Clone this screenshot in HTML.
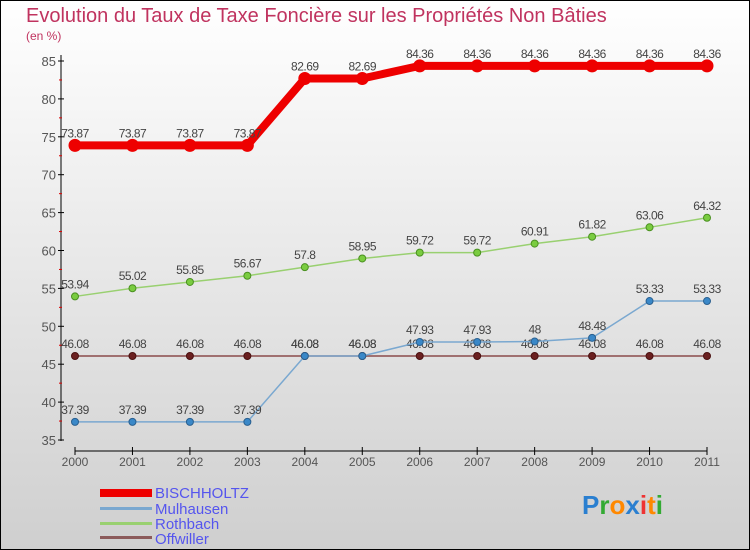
<!DOCTYPE html>
<html><head><meta charset="utf-8"><style>
body{margin:0}
svg{display:block;font-family:"Liberation Sans",sans-serif}
</style></head><body>
<svg id="c" width="750" height="550" xmlns="http://www.w3.org/2000/svg">
<defs><linearGradient id="bg" x1="0" y1="0" x2="0" y2="1"><stop offset="0" stop-color="#ffffff"/><stop offset="1" stop-color="#cfcfcf"/></linearGradient></defs>
<rect x="0.5" y="0.5" width="749" height="549" fill="url(#bg)" stroke="#000"/>
<text x="26" y="22" font-size="20" fill="#c0335f">Evolution du Taux de Taxe Foncière sur les Propriétés Non Bâties</text>
<text x="26" y="40" font-size="12" fill="#c0335f">(en %)</text>
<g id="axes"></g><g id="series"></g>
<g>
<rect x="100" y="489" width="52" height="8" fill="#e00"/>
<text x="155" y="498" font-size="15" fill="#5555ee">BISCHHOLTZ</text>
<rect x="100" y="507" width="52" height="3" fill="#7aa8d0"/>
<text x="155" y="514" font-size="15" fill="#5555ee">Mulhausen</text>
<rect x="100" y="522" width="52" height="3" fill="#99d070"/>
<text x="155" y="529" font-size="15" fill="#5555ee">Rothbach</text>
<rect x="100" y="536" width="52" height="3" fill="#8b5a5a"/>
<text x="155" y="544" font-size="15" fill="#5555ee">Offwiller</text>
</g>
<text x="582" y="514" font-size="26" font-weight="bold"><tspan fill="#2a7fd0">P</tspan><tspan fill="#3a3">r</tspan><tspan fill="#f80">o</tspan><tspan fill="#2a7fd0">x</tspan><tspan fill="#e33">i</tspan><tspan fill="#f80">t</tspan><tspan fill="#3a3">i</tspan></text>
</svg>
<script>
const years=[2000,2001,2002,2003,2004,2005,2006,2007,2008,2009,2010,2011];
const bischholtz=[73.87,73.87,73.87,73.87,82.69,82.69,84.36,84.36,84.36,84.36,84.36,84.36];
const mulhausen=[37.39,37.39,37.39,37.39,46.08,46.08,47.93,47.93,48,48.48,53.33,53.33];
const rothbach=[53.94,55.02,55.85,56.67,57.8,58.95,59.72,59.72,60.91,61.82,63.06,64.32];
const offwiller=[46.08,46.08,46.08,46.08,46.08,46.08,46.08,46.08,46.08,46.08,46.08,46.08];
const yTicks=[35,40,45,50,55,60,65,70,75,80,85];
const NS="http://www.w3.org/2000/svg";
const X=i=>75+i*(707-75)/(years.length-1);
const Y=v=>440-(v-35)*(440-61)/50;
function mk(t,a,p){const e=document.createElementNS(NS,t);for(const k in a)e.setAttribute(k,a[k]);p.appendChild(e);return e;}
const ax=document.getElementById('axes');
let l=mk('line',{x1:61,y1:55,x2:61,y2:441,stroke:'#000'},ax);


l=mk('line',{x1:75,y1:451,x2:707,y2:451,stroke:'#000'},ax);


yTicks.forEach((v,i)=>{
 mk('line',{x1:58,y1:Y(v),x2:64,y2:Y(v),stroke:'#000'},ax);
 if(i<yTicks.length-1)mk('line',{x1:59,y1:Y(v+2.5),x2:62,y2:Y(v+2.5),stroke:'#d00'},ax);
 const t=mk('text',{x:56,y:Y(v)+5,'font-size':13,fill:'#555','text-anchor':'end'},ax);t.textContent=v;
 
 
});
years.forEach((yr,i)=>{
 mk('line',{x1:X(i),y1:447,x2:X(i),y2:455,stroke:'#000'},ax);
 const t=mk('text',{x:X(i),y:466,'font-size':12,fill:'#555','text-anchor':'middle'},ax);t.textContent=yr;
 
 
});
const sg=document.getElementById('series');
function series(name,vals,color,w,r,dot,dstroke){
 const g=mk('g',{},sg);
 
 
 mk('polyline',{points:vals.map((v,i)=>X(i)+','+Y(v)).join(' '),fill:'none',stroke:color,'stroke-width':w,'stroke-linejoin':'round'},g);
 vals.forEach((v,i)=>{
  const c=mk('circle',{cx:X(i),cy:Y(v),r:r,fill:dot,stroke:dstroke,'stroke-width':1},g);
  
  
  const t=mk('text',{x:X(i),y:Y(v)-8,'font-size':12,fill:'#444','text-anchor':'middle','letter-spacing':'-0.5'},g);t.textContent=v;
  
  
 });
}
series('offwiller',offwiller,'#8b4a4a',1.5,3.5,'#6b2020','#4a1010');
series('mulhausen',mulhausen,'#7aa8d0',1.5,3.5,'#3a88c8','#2a6090');
series('rothbach',rothbach,'#99d070',1.5,3.5,'#7acc40','#4a9020');
series('bischholtz',bischholtz,'#ee0000',8,6,'#ee0000','#ee0000');
</script>
</body></html>
